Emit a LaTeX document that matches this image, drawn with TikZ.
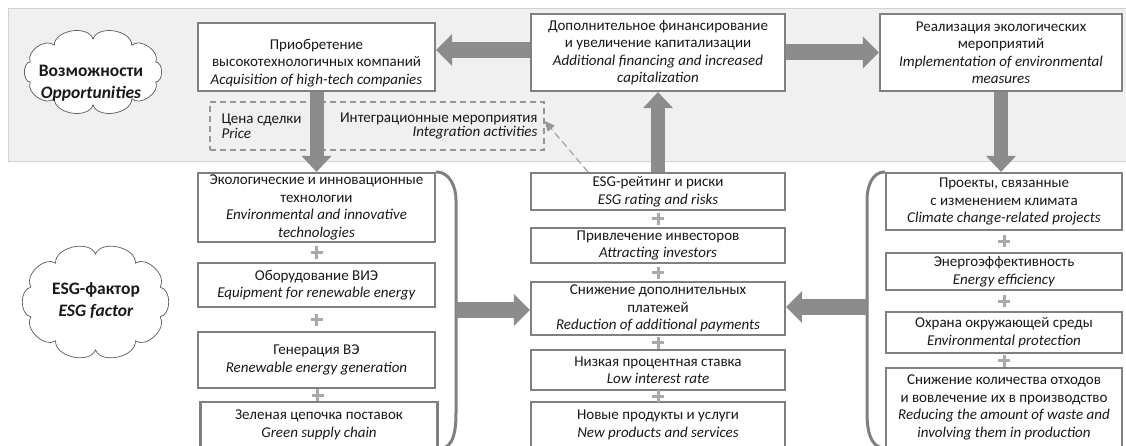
\documentclass[tikz,border=0pt]{standalone}
\usepackage{fontspec}
\setmainfont{Carlito}
\usetikzlibrary{arrows.meta,calc}
\definecolor{bandfill}{RGB}{240,240,240}
\definecolor{banddraw}{RGB}{210,210,210}
\definecolor{boxgray}{RGB}{128,128,128}
\definecolor{arrgray}{RGB}{140,140,140}
\definecolor{plusgray}{RGB}{170,170,170}
\definecolor{dashgray}{RGB}{150,150,150}
\definecolor{cloudgray}{RGB}{90,90,90}
\definecolor{txtcol}{RGB}{25,25,25}
\tikzset{
  box/.style={draw=boxgray, line width=2.2pt, fill=white, align=center, inner sep=0pt, text=txtcol, font=\fontsize{15}{17.5}\selectfont},
  hbig/.style={draw=arrgray, line width=16pt, -{Triangle[length=16pt,width=32pt,line width=0pt]}},
  vbig/.style={draw=arrgray, line width=14pt, -{Triangle[length=16pt,width=30pt,line width=0pt]}},
  bracket/.style={draw=boxgray, line width=3pt},
  cloudline/.style={draw=cloudgray, line width=0.7pt, fill=white},
  cloudtxt/.style={align=center, text=txtcol, inner sep=0pt, font=\fontsize{17.5}{22}\selectfont\bfseries},
  dashbox/.style={draw=dashgray, line width=1.4pt, dash pattern=on 6pt off 4pt, inner sep=0pt},
  dashtxt/.style={text=txtcol, inner sep=0pt, font=\fontsize{15}{14.5}\selectfont},
  dasharrow/.style={draw=dashgray, line width=1pt, dash pattern=on 7pt off 4pt, -{Triangle[length=10pt,width=9pt]}},
  plussign/.pic={\draw[plusgray, line width=3pt] (-6,0) -- (6,0) (0,-6) -- (0,6);}
}
\begin{document}
\begin{tikzpicture}[x=1pt,y=-1pt]
\useasboundingbox (0,0) rectangle (1126,446);
% band
\draw[fill=bandfill, draw=banddraw, line width=1pt] (8,9) rectangle (1130,162);
% clouds
\draw[cloudline] ([shift={(93,72)}]18:66 and 33)
  \foreach \t in {54,90,...,378} { to[bend left=80] ([shift={(93,72)}]\t:66 and 33) } -- cycle;
\node[cloudtxt] (Otxt) at (91,83) {Возможности\\\textit{Opportunities}};
\draw[cloudline] ([shift={(95.5,302)}]18:68 and 48)
  \foreach \t in {54,90,...,378} { to[bend left=80] ([shift={(95.5,302)}]\t:68 and 48) } -- cycle;
\node[cloudtxt] (Etxt) at (96,301) {ESG-фактор\\\textit{ESG factor}};
% top boxes
\node[box, minimum width=237pt, minimum height=68pt] (A) at (316.5,57) {};
\node[box, draw=none, fill=none] (Atxt) at (316.5,63) {Приобретение\\высокотехнологичных компаний\\\textit{Acquisition of high-tech companies}};
\node[box, minimum width=254pt, minimum height=77pt] (B) at (658,52.5) {Дополнительное финансирование\\и увеличение капитализации\\\textit{Additional financing and increased}\\\textit{capitalization}};
\node[box, minimum width=242pt, minimum height=77pt] (C) at (1001,52.5) {Реализация экологических\\мероприятий\\\textit{Implementation of environmental}\\\textit{measures}};
% dashed box
\node[dashbox, minimum width=334pt, minimum height=48pt] (D) at (377,126) {};
\node[dashtxt, anchor=west, align=left] (Dl) at ([xshift=12pt]D.west) {Цена сделки\\\textit{Price}};
\node[dashtxt, anchor=east, align=right] (Dr) at ([xshift=-7pt]D.east) {Интеграционные мероприятия\\\textit{Integration activities}};
% left column
\node[box, minimum width=237pt, minimum height=69pt] (L1) at (316.5,207.5) {Экологические и инновационные\\технологии\\\textit{Environmental and innovative}\\\textit{technologies}};
\node[box, minimum width=237pt, minimum height=44pt] (L2) at (316.5,285) {Оборудование ВИЭ\\\textit{Equipment for renewable energy}};
\node[box, minimum width=237pt, minimum height=56pt] (L3) at (316.5,360) {Генерация ВЭ\\\textit{Renewable energy generation}};
\node[box, minimum width=237pt, minimum height=46pt] (L4) at (319,425) {Зеленая цепочка поставок\\\textit{Green supply chain}};
% middle column
\node[box, minimum width=254pt, minimum height=37pt] (M1) at (658,191.5) {ESG-рейтинг и риски\\\textit{ESG rating and risks}};
\node[box, minimum width=254pt, minimum height=35pt] (M2) at (658,245.5) {Привлечение инвесторов\\\textit{Attracting investors}};
\node[box, minimum width=254pt, minimum height=53pt] (M3) at (658,308.5) {Снижение дополнительных\\платежей\\\textit{Reduction of additional payments}};
\node[box, minimum width=254pt, minimum height=40pt] (M4) at (658,370) {Низкая процентная ставка\\\textit{Low interest rate}};
\node[box, minimum width=254pt, minimum height=46pt] (M5) at (658,425) {Новые продукты и услуги\\\textit{New products and services}};
% right column
\node[box, minimum width=236pt, minimum height=57pt] (R1) at (1004,201.5) {Проекты, связанные\\с изменением климата\\\textit{Climate change-related projects}};
\node[box, minimum width=236pt, minimum height=37pt] (R2) at (1004,271.5) {Энергоэффективность\\\textit{Energy efficiency}};
\node[box, minimum width=236pt, minimum height=41pt] (R3) at (1004,332.5) {Охрана окружающей среды\\\textit{Environmental protection}};
\node[box, minimum width=236pt, minimum height=79pt] (R4) at (1004,407.5) {Снижение количества отходов\\и вовлечение их в производство\\\textit{Reducing the amount of waste and}\\\textit{involving them in production}};
% plus signs
\foreach \u/\v in {L1/L2,L2/L3,L3/L4,M1/M2,M2/M3,M3/M4,M4/M5,R1/R2,R2/R3,R3/R4}
  \pic at ($(\u.south)!.5!(\v.north)$) {plussign};
% brackets
\coordinate (lbt) at (456,200); \coordinate (lbb) at (456,412);
\draw[bracket] (L1.north east) to[out=0,in=90] (lbt) -- (lbb) to[out=-90,in=0] (L4.south east);
\coordinate (rbt) at (867,200); \coordinate (rbb) at (867,412);
\draw[bracket] (R1.north west) to[out=180,in=90] (rbt) -- (rbb) to[out=-90,in=180] (R4.south west);
% big arrows
\coordinate (ba) at ($(B.west)+(0,-2.5)$);
\draw[hbig] (ba) -- (ba -| A.east);
\draw[hbig] (B.east) -- (B.east -| C.west);
\draw[vbig] (A.south) -- (L1.north);
\draw[vbig] (M1.north) -- (B.south);
\draw[vbig] (C.south) -- (C.south |- R1.north);
\coordinate (lbm) at (456,310);
\draw[hbig] (lbm) -- (lbm -| M3.west);
\coordinate (rbm) at (867,307);
\draw[hbig] (rbm) -- (rbm -| M3.east);
% dashed arrow
\draw[dasharrow] ([xshift=-70pt]M1.north) -- ([yshift=5pt]D.east);
\end{tikzpicture}
\end{document}
